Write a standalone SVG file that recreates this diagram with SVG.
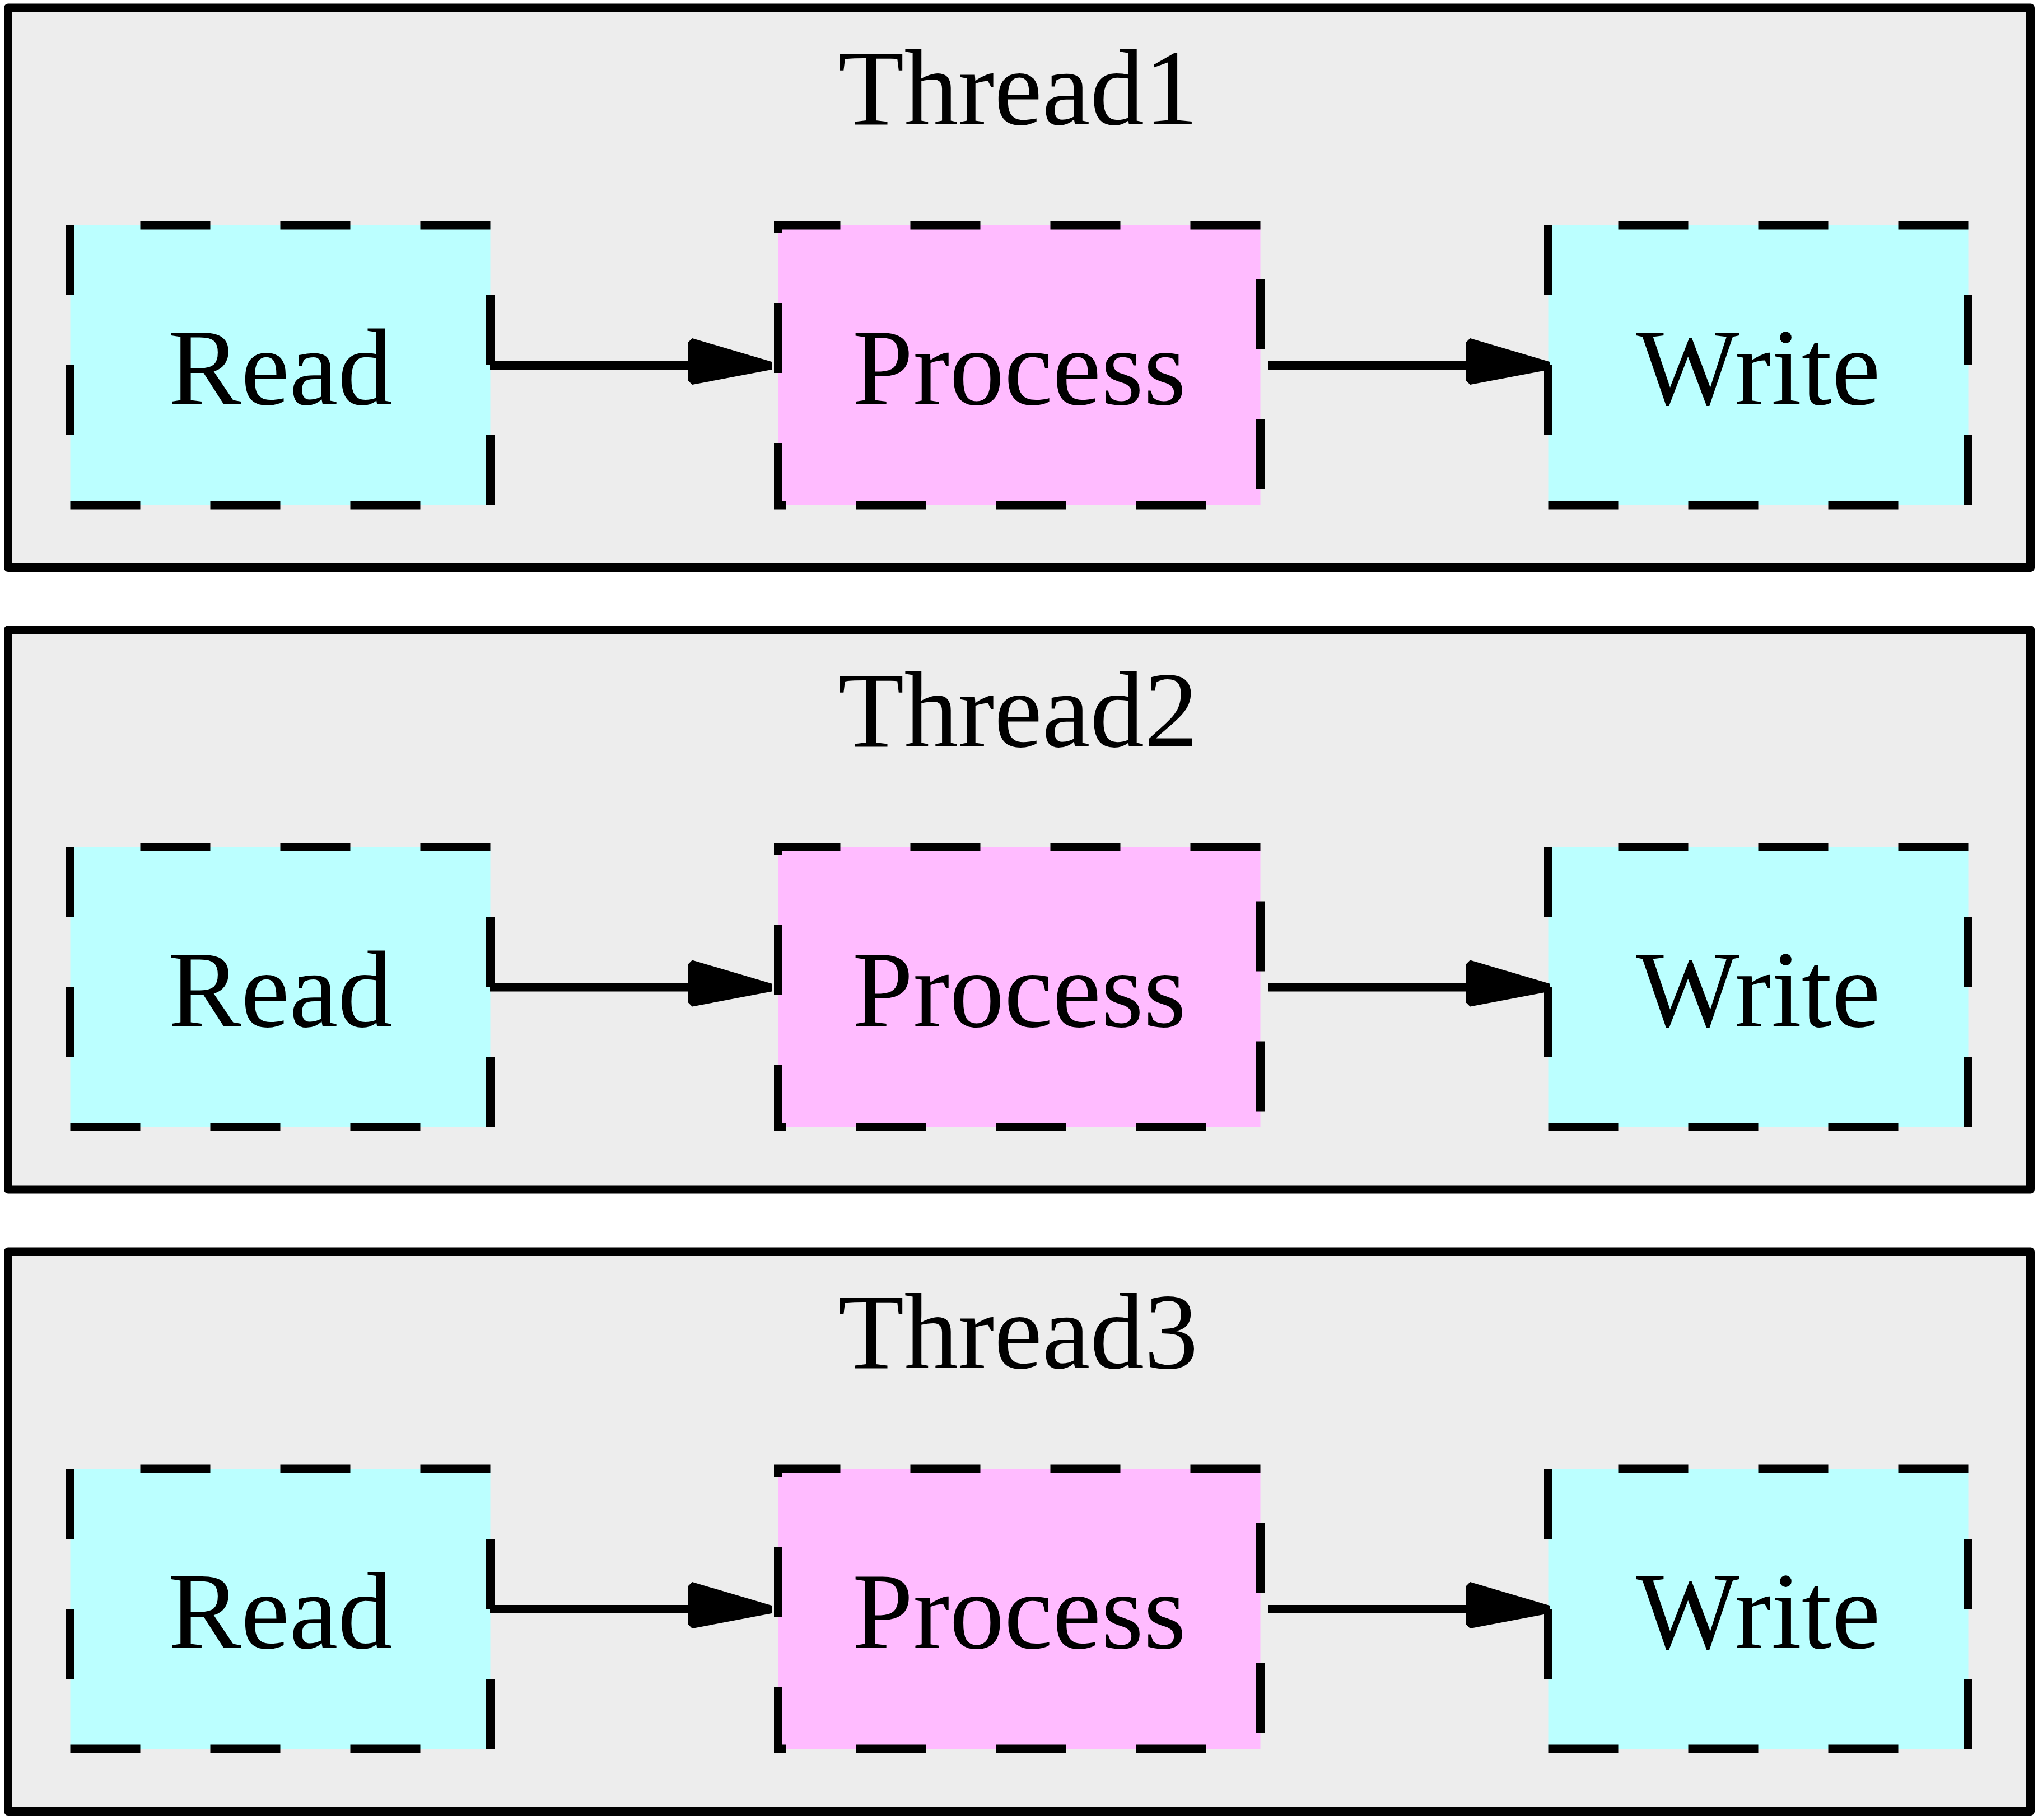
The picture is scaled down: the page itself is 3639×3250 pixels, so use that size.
<svg xmlns="http://www.w3.org/2000/svg" width="3639" height="3250" viewBox="0 0 3639 3250">
  <style>
    .cluster { fill: #ededed; stroke: #000000; stroke-width: 15; stroke-linejoin: round; }
    .node { fill: none; stroke: #000000; stroke-width: 15; stroke-dasharray: 125 125; stroke-linecap: butt; }
    .io { fill: #bbffff; }
    .proc { fill: #ffbbff; }
    .label { font-family: "Liberation Serif", "Times New Roman", serif; font-size: 195px; fill: #000000; text-anchor: middle; }
    .title { font-size: 193px; }
    .edge { stroke: #000000; stroke-width: 15; fill: none; }
    .head { fill: #000000; stroke: none; }
  </style>
  <rect x="0" y="0" width="3639" height="3250" fill="#ffffff"/>

  <!-- Thread1 -->
  <g id="cluster-thread1">
    <rect class="cluster" x="14.5" y="14" width="3611" height="999.5"/>
    <text class="label title" x="1818" y="222">Thread1</text>
  </g>
  <g id="t1-read">
    <rect class="io" x="125.5" y="402" width="750" height="500"/>
    <path class="node" d="M875.5,402 L125.5,402 L125.5,902 L875.5,902 Z"/>
    <text class="label" x="500.5" y="722">Read</text>
  </g>
  <g id="t1-process">
    <rect class="proc" x="1389.5" y="402" width="861" height="500"/>
    <path class="node" d="M2250.5,402 L1389.5,402 L1389.5,902 L2250.5,902 Z"/>
    <text class="label" x="1820" y="722">Process</text>
  </g>
  <g id="t1-write">
    <rect class="io" x="2764.5" y="402" width="750" height="500"/>
    <path class="node" d="M3514.5,402 L2764.5,402 L2764.5,902 L3514.5,902 Z"/>
    <text class="label" x="3139.5" y="722">Write</text>
  </g>

  <!-- Thread2 -->
  <g id="cluster-thread2" transform="translate(0,1110.5)">
    <rect class="cluster" x="14.5" y="14" width="3611" height="999.5"/>
    <text class="label title" x="1818" y="222">Thread2</text>
  </g>
  <g id="t2-read" transform="translate(0,1110.5)">
    <rect class="io" x="125.5" y="402" width="750" height="500"/>
    <path class="node" d="M875.5,402 L125.5,402 L125.5,902 L875.5,902 Z"/>
    <text class="label" x="500.5" y="722">Read</text>
  </g>
  <g id="t2-process" transform="translate(0,1110.5)">
    <rect class="proc" x="1389.5" y="402" width="861" height="500"/>
    <path class="node" d="M2250.5,402 L1389.5,402 L1389.5,902 L2250.5,902 Z"/>
    <text class="label" x="1820" y="722">Process</text>
  </g>
  <g id="t2-write" transform="translate(0,1110.5)">
    <rect class="io" x="2764.5" y="402" width="750" height="500"/>
    <path class="node" d="M3514.5,402 L2764.5,402 L2764.5,902 L3514.5,902 Z"/>
    <text class="label" x="3139.5" y="722">Write</text>
  </g>

  <!-- Thread3 -->
  <g id="cluster-thread3" transform="translate(0,2221)">
    <rect class="cluster" x="14.5" y="14" width="3611" height="999.5"/>
    <text class="label title" x="1818" y="222">Thread3</text>
  </g>
  <g id="t3-read" transform="translate(0,2221)">
    <rect class="io" x="125.5" y="402" width="750" height="500"/>
    <path class="node" d="M875.5,402 L125.5,402 L125.5,902 L875.5,902 Z"/>
    <text class="label" x="500.5" y="722">Read</text>
  </g>
  <g id="t3-process" transform="translate(0,2221)">
    <rect class="proc" x="1389.5" y="402" width="861" height="500"/>
    <path class="node" d="M2250.5,402 L1389.5,402 L1389.5,902 L2250.5,902 Z"/>
    <text class="label" x="1820" y="722">Process</text>
  </g>
  <g id="t3-write" transform="translate(0,2221)">
    <rect class="io" x="2764.5" y="402" width="750" height="500"/>
    <path class="node" d="M3514.5,402 L2764.5,402 L2764.5,902 L3514.5,902 Z"/>
    <text class="label" x="3139.5" y="722">Write</text>
  </g>

  <!-- Connectors -->
  <g id="connectors">
    <g id="t1-edges">
      <path class="edge" d="M875,652.5 L1232,652.5"/>
      <polygon class="head" points="1229,611 1236,604 1378,646 1378,660 1236,687 1229,680"/>
      <path class="edge" d="M2264,652.5 L2621,652.5"/>
      <polygon class="head" points="2618,611 2625,604 2767,646 2767,660 2625,687 2618,680"/>
    </g>
    <g id="t2-edges" transform="translate(0,1110.5)">
      <path class="edge" d="M875,652.5 L1232,652.5"/>
      <polygon class="head" points="1229,611 1236,604 1378,646 1378,660 1236,687 1229,680"/>
      <path class="edge" d="M2264,652.5 L2621,652.5"/>
      <polygon class="head" points="2618,611 2625,604 2767,646 2767,660 2625,687 2618,680"/>
    </g>
    <g id="t3-edges" transform="translate(0,2221)">
      <path class="edge" d="M875,652.5 L1232,652.5"/>
      <polygon class="head" points="1229,611 1236,604 1378,646 1378,660 1236,687 1229,680"/>
      <path class="edge" d="M2264,652.5 L2621,652.5"/>
      <polygon class="head" points="2618,611 2625,604 2767,646 2767,660 2625,687 2618,680"/>
    </g>
  </g>
</svg>
